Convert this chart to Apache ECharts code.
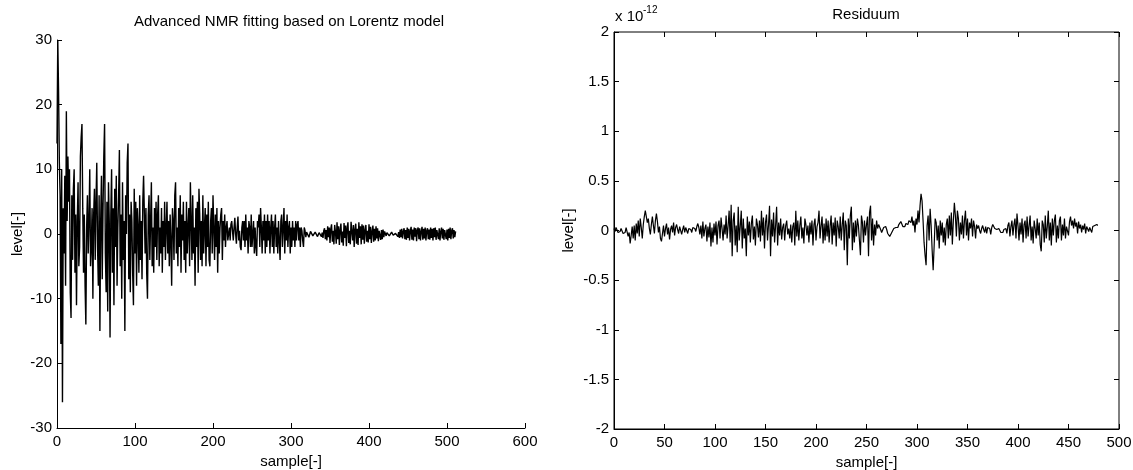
<!DOCTYPE html>
<html>
<head>
<meta charset="utf-8">
<script src="https://cdn.jsdelivr.net/npm/echarts@6/dist/echarts.min.js"></script>
<style>
html,body{margin:0;padding:0;background:#fff;}
#c{width:1133px;height:470px;}
</style>
</head>
<body>
<div id="c"></div>
<script>
// Left panel: measured NMR signal (level[-]) per sample index 0..511
const nmrSignal = [
 14, 30, 22, 11, 6, -17, 10, -26, 4, -3, 9, -8, 19, 2, 12, 5,
 10, -9, -13, 6, -4, 7, 10, -6, 3, -11, 2, 8, -5, -2, 12, 15,
 17, 4, -6, 3, -8, -14, 1, 6, -3, 2, 10, -5, -2, 4, -10, 3,
 7, -4, 5, 11, -2, -8, 6, -15, 2, 9, -7, 4, 12, 17, -3, -9,
 5, -12, 8, 2, -16, 3, 10, -6, 4, -11, 7, -2, 9, -8, 1, 6,
 13, -5, 3, -10, 8, -4, 2, -15, 6, 0, 11, 14, -7, 3, -9, 5,
 2, -6, -11, 7, -3, 5, -8, 4, 1, -6, 6, -4, 2, -7, 5, 9,
 9, -3, 4, -6, -10, 3, 6, -4, 2, 8, -5, 1, -6, 4, -2, 5,
 -4, 3, 6, -5, 1, -3, 4, -6, 2, -2, 5, -4, 1, 5, -3, 2,
 -5, 3, -1, -8, 4, 2, -4, 6, 8, -3, 1, -5, 4, -2, 6, -6,
 3, -1, 5, -4, 2, -6, 5, -3, 1, 4, -5, 8, 2, -4, 6, -3,
 1, -8, 4, -2, 5, -6, 7, 3, -4, 2, -5, 6, -3, 1, 4, -5,
 3, -2, 5, -4, -5, 2, 4, -3, 6, 1, -4, 3, -2, 4, -6, 2,
 -3, 1, 3, 4, -4, 2, -1, 3, -2, 1, 2, -1, 0, 1, -1, 1.5,
 2, 0.5, -1, 1, 2.5, 0, -1.5, 1, 2.7, -1, 0.5, -2, -2.5, 1, 2, -1,
 2, -2, 3, -1, 1, -3, 2, 1, -2, 3, -2, 0, 2, -3, 1, -2,
 -3.4, 2, 1, 3, -2, 4, 1, -3, 2, -1, 3, -3, 2, -2, 3, -1,
 2, -3, 1, 3, -2, 2, -3, 1, 3, -2, 1, -3, 2, -1, -4, 2,
 3, -2, 1, 4, -3, 2, -1, 3, -2, 1, 2, -3, 1, -2, 2, -1,
 1, -2, 2, -1, 1.5, 2, -1, 1, -2, 1, 0.5, -1, -2, 1, 0.5, -0.5,
 0.3, 0.6, 0, -0.5, -0.2, 0.4, 0.7, 0.2, -0.3, -0.6, -0.2, 0.3, 0.5, 0, -0.4, -0.2,
 0.2, 0.5, 0.1, -0.4, 0.2, -0.6, 0.5, 0.9, -0.8, 0.6, -1.0, 1.2, -0.5, 1.0, -1.4, 0.8,
 1.5, -1.2, 0.5, -1.6, 1.4, 0.3, -1.5, 1.8, -0.8, 1.2, -1.7, 0.6, 1.6, -1.3, 0.4, -1.8,
 1.7, -0.6, 1.3, -1.9, 0.9, 1.8, -1.4, 0.5, -1.6, 1.9, 2.2, -1.0, 1.4, -2.0, 0.7, 1.6,
 -1.5, 0.8, -1.7, 1.8, -0.6, 1.2, -1.6, 1.5, -0.9, 1.3, -1.5, 0.6, 1.4, -1.2, 0.5, -1.3,
 1.5, -0.8, 1.1, -1.4, 0.4, 1.3, -1.2, 0.8, -1.0, 1.2, -0.7, 0.9, -1.1, 0.5, 0.8, -0.9,
 0.6, -0.8, 0.7, -0.5, 0.4, 0.1, -0.3, 0.2, 0.4, 0, -0.3, -0.4, 0, 0.3, 0.2, -0.2,
 -0.5, -0.3, 0.1, 0.4, 0.2, -0.4, 0.3, -0.6, 0.7, -0.5, 0.8, -0.7, 0.4, 0.9, -0.8, 0.6,
 -0.9, 1.0, -0.6, 0.8, -1.0, 0.5, 1.1, -0.9, 0.7, -1.0, 1.0, -0.4, 0.9, -1.1, 0.6, 1.0,
 -0.8, 0.9, -1.0, 0.4, 1.1, -0.9, 0.8, -0.7, 1.0, -1.0, 0.5, 0.9, -0.8, 0.7, -0.9, 1.0,
 -0.6, 0.8, -1.0, 0.9, -0.5, 1.0, -0.9, 0.6, 0.8, -0.8, 0.9, -1.0, 0.4, 1.0, -0.7, 0.8,
 -0.9, 0.6, 0.9, -0.8, 0.7, -1.0, 0.8, -0.6, 1.0, -0.8, 0.5, 0.9, -0.7, 0.6, -0.5, 0.4
];

// Right panel: residuum, in units of 1e-12, per sample index 0..479
const residuumE12 = [
 0.02, -0.01, 0.03, 0.01, -0.02, -0.04, -0.01, 0.02, 0.03, -0.03, -0.05, -0.02, 0.03, 0.01, -0.06, -0.02,
 -0.13, -0.05, 0.04, -0.08, 0.05, -0.1, 0.07, -0.03, 0.1, -0.06, 0.12, 0.03, -0.08, 0.06, 0.14, 0.2,
 0.18, 0.08, 0.12, 0.02, -0.04, 0.06, 0.14, 0.05, -0.03, 0.1, 0.17, 0.09, -0.02, 0.04, -0.08, -0.11,
 -0.03, 0.05, -0.06, 0.02, 0.07, -0.04, 0.03, -0.09, 0.01, 0.05, -0.02, 0.08, -0.05, 0.03, 0.06, 0.01,
 -0.03, 0.04, 0.02, -0.04, 0.01, 0.05, -0.02, 0.03, 0.0, -0.03, 0.02, 0.04, 0.01, -0.02, 0.03, 0.05,
 0.02, -0.01, 0.04, 0.07, 0.03, -0.04, 0.05, -0.08, 0.09, -0.06, 0.02, 0.06, -0.11, 0.04, -0.07, 0.08,
 -0.16, 0.03, -0.12, 0.07, -0.05, 0.09, -0.14, 0.05, 0.1, -0.08, 0.13, 0.02, -0.1, 0.06, -0.04, 0.15,
 -0.08, 0.05, 0.2, -0.12, 0.26, -0.26, 0.1, 0.18, -0.15, 0.05, -0.22, 0.24, -0.1, 0.04, 0.2, -0.18,
 0.12, -0.08, 0.02, -0.26, 0.14, -0.05, 0.09, -0.12, 0.07, 0.15, -0.09, 0.04, -0.15, 0.12, 0.06, -0.07,
 0.1, -0.11, 0.2, -0.05, 0.13, -0.18, 0.08, 0.16, -0.1, 0.06, 0.25, -0.26, 0.11, -0.06, 0.18, -0.12,
 0.05, 0.24, -0.15, 0.08, -0.05, 0.12, -0.09, 0.03, 0.07, -0.1, 0.05, 0.1, -0.04, 0.02, -0.08, 0.06,
 -0.12, 0.04, 0.08, -0.15, 0.2, -0.06, 0.1, -0.1, 0.05, 0.14, -0.08, 0.03, -0.13, 0.12, 0.06, -0.05,
 0.05, -0.12, 0.08, -0.04, 0.1, -0.15, 0.06, 0.12, -0.1, 0.04, 0.08, 0.2, -0.08, 0.05, 0.14, -0.13,
 0.07, -0.1, 0.12, -0.06, 0.1, -0.12, 0.05, 0.15, -0.14, 0.08, -0.05, 0.13, -0.16, 0.1, 0.04, -0.08,
 0.14, -0.1, 0.06, 0.18, -0.2, 0.1, 0.05, -0.35, 0.12, -0.08, 0.15, 0.24, -0.2, 0.08, -0.12, 0.1,
 -0.06, 0.12, 0.05, -0.1, -0.25, 0.15, 0.08, -0.12, 0.1, -0.05, 0.06, 0.14, -0.26, 0.18, 0.25, -0.1,
 0.12, -0.15, 0.06, -0.05, 0.1, 0.02, 0.06, 0.04, 0.01, -0.02, 0.0, 0.03, 0.05, 0.04, 0.01, -0.03,
 -0.05, -0.06, -0.04, -0.02, 0.0, 0.02, 0.04, 0.03, 0.01, 0.03, 0.06, 0.08, 0.09, 0.07, 0.04, 0.02,
 0.04, 0.07, 0.09, 0.06, 0.1, 0.12, 0.08, 0.14, 0.05, 0.1, -0.02, 0.12, 0.06, 0.2, 0.08, 0.25,
 0.37, 0.3, 0.1, -0.12, -0.25, -0.35, 0.05, 0.15, -0.1, 0.22, 0.05, -0.2, -0.4, -0.15, 0.12, 0.08,
 -0.1, 0.05, -0.18, 0.1, -0.05, 0.08, -0.12, 0.03, -0.15, 0.06, 0.12, -0.08, 0.15, -0.05, 0.18, -0.14,
 0.1, 0.28, 0.15, -0.06, 0.2, 0.12, -0.1, 0.08, -0.04, 0.15, -0.08, 0.1, 0.2, -0.05, 0.12, -0.1,
 0.08, 0.02, 0.12, -0.06, 0.1, 0.04, -0.08, 0.06, 0.02, 0.05, 0.0, -0.03, 0.02, 0.05, 0.01, -0.02,
 0.04, -0.03, 0.03, 0.05, 0.02, -0.04, 0.03, 0.06, 0.04, 0.02, 0.0, 0.01, 0.03, 0.02, 0.0, -0.02,
 -0.04, -0.02, 0.01, 0.03, 0.02, -0.03, 0.05, 0.08, -0.06, 0.04, 0.1, -0.05, 0.06, 0.12, -0.08, 0.17,
 0.05, -0.1, 0.08, -0.04, 0.12, -0.12, 0.06, 0.1, -0.08, 0.14, -0.06, 0.05, 0.15, -0.1, 0.04, -0.13,
 0.1, 0.02, -0.08, 0.12, -0.05, 0.08, -0.14, -0.21, 0.1, 0.06, -0.12, 0.15, -0.08, 0.04, 0.2, -0.1,
 0.08, -0.15, 0.12, -0.05, 0.1, 0.16, -0.12, 0.05, -0.08, 0.1, 0.14, -0.1, 0.06, -0.05, 0.12, -0.08,
 0.04, 0.06, -0.05, 0.09, 0.14, 0.05, 0.1, 0.02, 0.12, 0.04, 0.08, -0.03, 0.09, 0.02, 0.06, -0.02,
 0.05, 0.01, 0.07, -0.03, 0.04, 0.06, -0.01, 0.03, 0.05, -0.02, 0.04, 0.02, 0.05, 0.03, 0.06, 0.05
];

const leftTitle = 'Advanced NMR fitting based on Lorentz model';
const rightTitle = 'Residuum';
const xName = 'sample[-]';
const yName = 'level[-]';

const FONT = 'Liberation Sans, Arial, sans-serif';
const FS = 15;

const leftData = nmrSignal.map((v, i) => [i, v]);
const rightData = residuumE12.map((v, i) => [i, v]);

function lbl(margin) {
  return { color: '#000', fontSize: FS, fontFamily: FONT, margin: margin };
}
function axisBase(extra) {
  return Object.assign({
    type: 'value',
    axisLine: { show: true, onZero: false, lineStyle: { color: '#000', width: 1 } },
    axisTick: { show: true, inside: true, length: 5, lineStyle: { color: '#000' } },
    axisLabel: lbl(6),
    splitLine: { show: false },
    nameTextStyle: { color: '#000', fontSize: FS, fontFamily: FONT }
  }, extra);
}

const chart = echarts.init(document.getElementById('c'), null, { renderer: 'canvas' });

const option = {
  animation: false,
  backgroundColor: '#fff',
  grid: [
    { left: 57, top: 40, width: 468, height: 388, show: false, containLabel: false, outerBoundsMode: 'none' },
    { left: 614, top: 32, width: 505, height: 397, show: true, borderColor: '#000', borderWidth: 1,
      backgroundColor: 'transparent', containLabel: false, outerBoundsMode: 'none' }
  ],
  xAxis: [
    axisBase({ gridIndex: 0, min: 0, max: 600, interval: 100, position: 'bottom',
      name: xName, nameLocation: 'middle', nameGap: 25, axisLabel: lbl(6) }),
    axisBase({ gridIndex: 1, min: 0, max: 500, interval: 50, position: 'bottom',
      name: xName, nameLocation: 'middle', nameGap: 25, axisLabel: lbl(6) }),
    axisBase({ gridIndex: 1, min: 0, max: 500, interval: 50, position: 'top',
      axisLine: { show: false, onZero: false }, axisLabel: { show: false } })
  ],
  yAxis: [
    axisBase({ gridIndex: 0, min: -30, max: 30, interval: 10, position: 'left',
      name: yName, nameLocation: 'middle', nameGap: 32, axisLabel: lbl(5) }),
    axisBase({ gridIndex: 1, min: -2, max: 2, interval: 0.5, position: 'left',
      name: yName, nameLocation: 'middle', nameGap: 38, axisLabel: lbl(5) }),
    axisBase({ gridIndex: 1, min: -2, max: 2, interval: 0.5, position: 'right',
      axisLine: { show: false, onZero: false }, axisLabel: { show: false } })
  ],
  graphic: [
    { type: 'text', x: 289, y: 22, style: { text: leftTitle, fill: '#000', font: FS + 'px ' + FONT, textAlign: 'center', textVerticalAlign: 'middle' } },
    { type: 'text', x: 866, y: 15, style: { text: rightTitle, fill: '#000', font: FS + 'px ' + FONT, textAlign: 'center', textVerticalAlign: 'middle' } },
    { type: 'text', x: 615, y: 17, style: { text: 'x 10', fill: '#000', font: FS + 'px ' + FONT, textAlign: 'left', textVerticalAlign: 'middle' } },
    { type: 'text', x: 643, y: 10, style: { text: '-12', fill: '#000', font: '10px ' + FONT, textAlign: 'left', textVerticalAlign: 'middle' } }
  ],
  series: [
    { type: 'line', xAxisIndex: 0, yAxisIndex: 0, data: leftData, showSymbol: false, symbol: 'none',
      lineStyle: { color: '#000', width: 1.4 }, sampling: null, silent: true },
    { type: 'line', xAxisIndex: 1, yAxisIndex: 1, data: rightData, showSymbol: false, symbol: 'none',
      lineStyle: { color: '#000', width: 1.2 }, sampling: null, silent: true }
  ]
};
chart.setOption(option);
</script>
</body>
</html>
